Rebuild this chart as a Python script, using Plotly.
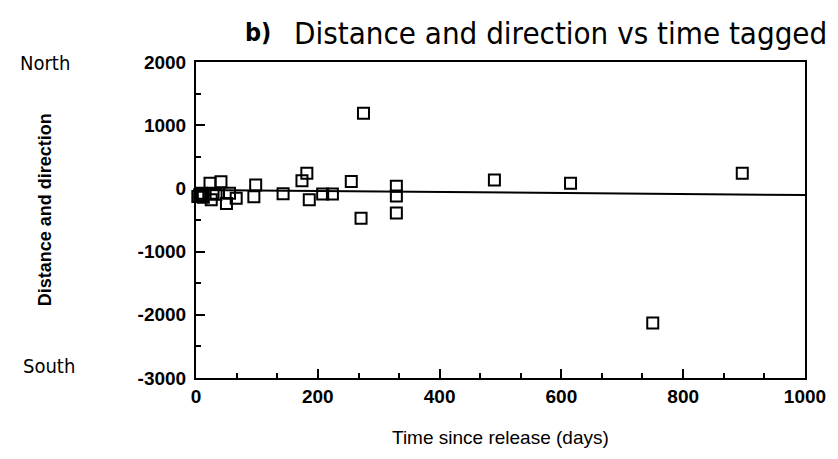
import plotly.graph_objects as go

# Data (days since release, distance & direction)
days = [3, 6, 9, 9, 12, 23, 25, 28, 33, 41, 50, 55, 66, 95, 98, 143, 174, 182,
        186, 208, 224, 255, 271, 275, 329, 329, 329, 490, 615, 750, 897]
dist = [-130, -100, -78, -120, -140, 80, -180, -78, -94, 106, -240, -78, -157,
        -131, 54, -85, 120, 239, -178, -90, -90, 110, -473, 1190, 33, -120,
        -390, 133, 80, -2130, 239]

# Fitted trend line (endpoints of regression)
trend_x = [0, 1000]
trend_y = [-25, -105]

x_ticks = [0, 200, 400, 600, 800, 1000]
y_ticks = [-3000, -2000, -1000, 0, 1000, 2000]

W, H = 838, 459
L, R, T, B = 196, 24, 62, 81

fig = go.Figure()
fig.add_trace(go.Scatter(x=trend_x, y=trend_y, mode="lines",
                         line=dict(color="black", width=2), showlegend=False,
                         cliponaxis=False))
fig.add_trace(go.Scatter(x=days, y=dist, mode="markers",
                         marker=dict(symbol="square-open", size=11,
                                     color="black", line=dict(width=2)),
                         showlegend=False, cliponaxis=False))

tickfont = dict(family="Liberation Sans", size=19, color="black")
fig.update_xaxes(range=[0, 1000], tickvals=x_ticks, ticktext=[str(v) for v in x_ticks],
                 ticks="inside", ticklen=9, tickwidth=1.5, tickcolor="black",
                 minor=dict(tickvals=[67, 133, 267, 333, 467, 533, 667, 733, 867, 933],
                            ticks="inside", ticklen=5, tickcolor="black"),
                 showline=True, linecolor="black", linewidth=2, mirror=True,
                 showgrid=False, zeroline=False, tickfont=dict(tickfont, weight="bold"))
fig.update_yaxes(range=[-3000, 2000], tickvals=y_ticks, ticktext=[str(v) for v in y_ticks],
                 ticks="inside", ticklen=9, tickwidth=1.5, tickcolor="black",
                 minor=dict(tickvals=[-2500, -1500, -500, 500, 1500],
                            ticks="inside", ticklen=5, tickcolor="black"),
                 showline=True, linecolor="black", linewidth=2, mirror=True,
                 showgrid=False, zeroline=False, ticklabelstandoff=4,
                 tickfont=dict(tickfont, weight="bold"))

pw, ph = W - L - R, H - T - B
def px(x):
    return (x - L) / pw
def py(y):
    return (H - B - y) / ph

ann = [
    dict(text="b)", x=px(259), y=py(33), font=dict(family="DejaVu Sans Condensed", size=25, weight="bold")),
    dict(text="Distance and direction vs time tagged", x=px(566), y=py(33),
         font=dict(family="DejaVu Sans Condensed", size=31)),
    dict(text="North", x=px(43), y=py(63), font=dict(family="DejaVu Sans Condensed", size=20)),
    dict(text="South", x=px(47), y=py(366), font=dict(family="DejaVu Sans Condensed", size=20)),
    dict(text="Distance and direction", x=px(43), y=py(210), textangle=-90,
         font=dict(family="Liberation Sans", size=18, weight="bold")),
    dict(text="Time since release (days)", x=px(505), y=py(437),
         font=dict(family="Liberation Sans", size=19)),
]
for a in ann:
    a.update(xref="paper", yref="paper", showarrow=False, xanchor="center", yanchor="middle")
    a["font"].setdefault("color", "black")

fig.update_layout(width=W, height=H, margin=dict(l=L, r=R, t=T, b=B),
                  plot_bgcolor="white", paper_bgcolor="white", annotations=ann)

fig.write_html("out.html")
